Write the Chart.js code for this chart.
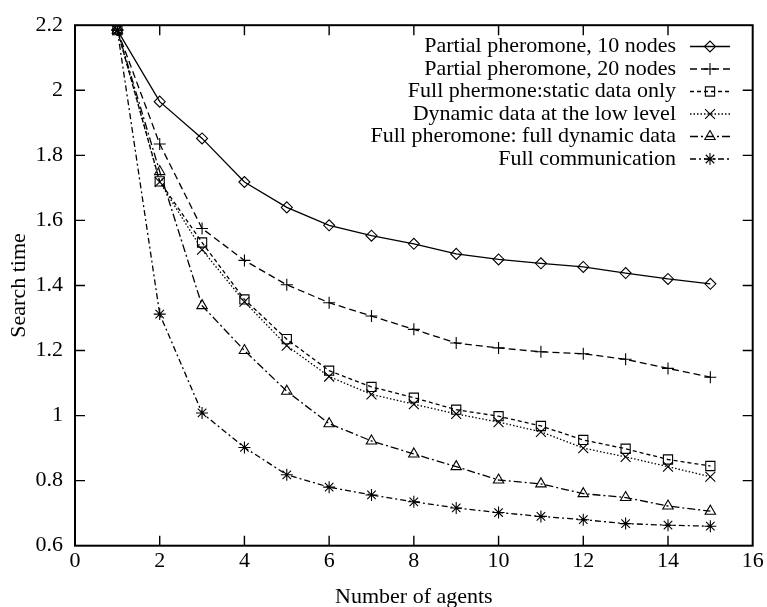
<!DOCTYPE html>
<html>
<head>
<meta charset="utf-8">
<title>Search time vs number of agents</title>
<script src="https://cdn.jsdelivr.net/npm/chart.js@4.4.1/dist/chart.umd.min.js"></script>
<style>
  html, body { margin: 0; padding: 0; background: #fff; }
  #wrap { width: 767px; height: 607px; }
</style>
</head>
<body>
<div id="wrap"><canvas id="searchChart"></canvas></div>
<script>
// number of agents on the x axis
const agents = [1, 2, 3, 4, 5, 6, 7, 8, 9, 10, 11, 12, 13, 14, 15];

// search time for each strategy
const partial10 = [2.185, 1.965, 1.852, 1.718, 1.640, 1.585, 1.553, 1.528, 1.497, 1.480, 1.468, 1.457, 1.438, 1.420, 1.405];
const partial20 = [2.185, 1.835, 1.575, 1.477, 1.402, 1.347, 1.306, 1.265, 1.223, 1.208, 1.196, 1.190, 1.173, 1.145, 1.118];
const staticOnly = [2.185, 1.720, 1.532, 1.357, 1.235, 1.138, 1.088, 1.055, 1.018, 0.998, 0.968, 0.925, 0.898, 0.865, 0.845];
const lowLevel = [2.185, 1.718, 1.510, 1.350, 1.215, 1.120, 1.065, 1.035, 1.005, 0.980, 0.950, 0.900, 0.873, 0.843, 0.812];
const fullDynamic = [2.185, 1.750, 1.338, 1.200, 1.075, 0.975, 0.922, 0.882, 0.843, 0.802, 0.790, 0.760, 0.748, 0.722, 0.706];
const fullComm = [2.185, 1.312, 1.008, 0.902, 0.818, 0.780, 0.756, 0.735, 0.716, 0.702, 0.690, 0.680, 0.668, 0.663, 0.660];

const seriesLabels = [
    'Partial pheromone, 10 nodes',
    'Partial pheromone, 20 nodes',
    'Full phermone:static data only',
    'Dynamic data at the low level',
    'Full pheromone: full dynamic data',
    'Full communication'
];

const xTickValues = [0, 2, 4, 6, 8, 10, 12, 14, 16];
const yTickValues = [0.6, 0.8, 1, 1.2, 1.4, 1.6, 1.8, 2, 2.2];

const FONT = 'Liberation Serif';
const FONT_SIZE = 22;

// gnuplot-ish styles: marker + dash pattern per series
const styles = [
    { pointStyle: 'rectRot', radius: 5.5, dash: [] },
    { pointStyle: 'cross', radius: 6, dash: [7, 4] },
    { pointStyle: 'rect', radius: 6.5, dash: [4, 3] },
    { pointStyle: 'crossRot', radius: 7, dash: [1.5, 2] },
    { pointStyle: 'triangle', radius: 6, dash: [8, 3, 2, 3] },
    { pointStyle: 'star', radius: 6, dash: [6, 3, 2, 3] }
];

const allSeries = [partial10, partial20, staticOnly, lowLevel, fullDynamic, fullComm];

const datasets = allSeries.map((values, i) => ({
    label: seriesLabels[i],
    data: agents.map((a, j) => ({ x: a, y: values[j] })),
    borderColor: '#000',
    borderWidth: 1.3,
    borderDash: styles[i].dash,
    backgroundColor: 'rgba(0,0,0,0)',
    pointStyle: styles[i].pointStyle,
    pointRadius: styles[i].radius,
    pointBorderWidth: 1.1,
    pointBorderColor: '#000',
    pointBackgroundColor: 'rgba(0,0,0,0)',
    tension: 0,
    fill: false
}));

// -----------------------------
// Frame with inward ticks + key in the upper right
// -----------------------------
const frameAndKey = {
    id: 'frameAndKey',
    afterDatasetsDraw(chart) {
        const { ctx, chartArea: a, scales: { x, y } } = chart;
        const tickLen = 10;
        ctx.save();
        ctx.strokeStyle = '#000';
        ctx.setLineDash([]);
        ctx.lineWidth = 2;
        ctx.strokeRect(a.left, a.top, a.right - a.left, a.bottom - a.top);

        ctx.lineWidth = 1.4;
        ctx.beginPath();
        xTickValues.forEach(v => {
            if (v === x.min || v === x.max) return;
            const px = x.getPixelForValue(v);
            ctx.moveTo(px, a.bottom);
            ctx.lineTo(px, a.bottom - tickLen);
            ctx.moveTo(px, a.top);
            ctx.lineTo(px, a.top + tickLen);
        });
        yTickValues.forEach(v => {
            if (v === y.min || v === y.max) return;
            const py = y.getPixelForValue(v);
            ctx.moveTo(a.left, py);
            ctx.lineTo(a.left + tickLen, py);
            ctx.moveTo(a.right, py);
            ctx.lineTo(a.right - tickLen, py);
        });
        ctx.stroke();

        // key
        const textRight = 676;
        const lineStart = 690;
        const lineEnd = 730;
        const rowTop = 46.5;
        const rowGap = 22.5;
        ctx.font = FONT_SIZE + 'px "' + FONT + '"';
        ctx.textAlign = 'right';
        ctx.textBaseline = 'middle';
        ctx.fillStyle = '#000';
        seriesLabels.forEach((label, i) => {
            const ry = rowTop + i * rowGap;
            ctx.fillText(label, textRight, ry);

            ctx.lineWidth = 1.3;
            ctx.setLineDash(styles[i].dash);
            ctx.beginPath();
            ctx.moveTo(lineStart, ry);
            ctx.lineTo(lineEnd, ry);
            ctx.stroke();

            ctx.setLineDash([]);
            ctx.lineWidth = 1.1;
            ctx.fillStyle = 'rgba(0,0,0,0)';
            Chart.helpers.drawPoint(ctx, {
                pointStyle: styles[i].pointStyle,
                radius: styles[i].radius,
                rotation: 0,
                borderWidth: 1.1
            }, (lineStart + lineEnd) / 2, ry);
            ctx.fillStyle = '#000';
        });
        ctx.restore();
    }
};

new Chart(document.getElementById('searchChart').getContext('2d'), {
    type: 'line',
    data: { datasets: datasets },
    options: {
        responsive: true,
        maintainAspectRatio: false,
        animation: false,
        layout: { padding: { top: 16, right: 14.3, left: 0, bottom: 0 } },
        plugins: {
            legend: { display: false },
            tooltip: { enabled: false }
        },
        scales: {
            x: {
                type: 'linear',
                min: 0,
                max: 16,
                afterBuildTicks: scale => { scale.ticks = xTickValues.map(v => ({ value: v })); },
                afterFit: scale => { scale.height = 61.3; },
                grid: { display: false, drawTicks: false },
                border: { display: false },
                ticks: {
                    padding: 2,
                    color: '#000',
                    font: { family: FONT, size: FONT_SIZE },
                    maxRotation: 0,
                    callback: v => String(v)
                },
                title: {
                    display: true,
                    text: 'Number of agents',
                    color: '#000',
                    font: { family: FONT, size: FONT_SIZE },
                    padding: { top: 0, bottom: -3 }
                }
            },
            y: {
                type: 'linear',
                min: 0.6,
                max: 2.2,
                afterBuildTicks: scale => { scale.ticks = yTickValues.map(v => ({ value: v })); },
                afterFit: scale => { scale.width = 75; },
                grid: { display: false, drawTicks: false },
                border: { display: false },
                ticks: {
                    padding: 12,
                    color: '#000',
                    font: { family: FONT, size: FONT_SIZE },
                    callback: v => String(v)
                },
                title: {
                    display: true,
                    text: 'Search time',
                    color: '#000',
                    font: { family: FONT, size: FONT_SIZE },
                    padding: { top: 6, bottom: 0 }
                }
            }
        }
    },
    plugins: [frameAndKey]
});
</script>
</body>
</html>
